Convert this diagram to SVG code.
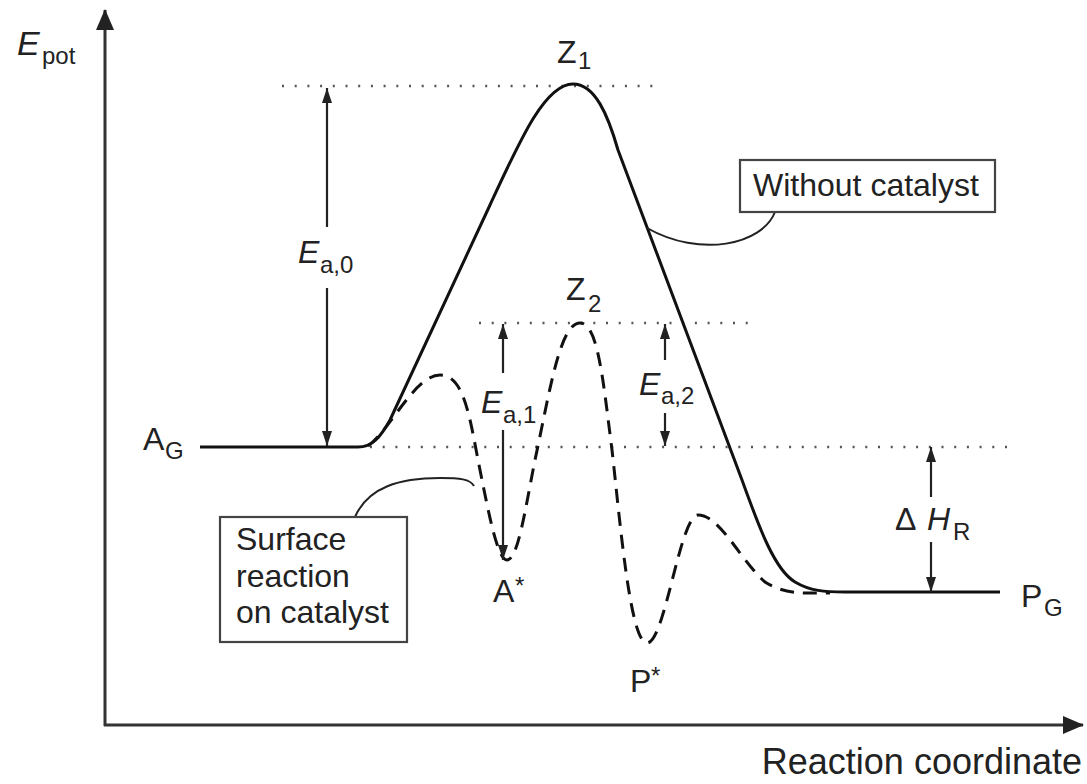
<svg xmlns="http://www.w3.org/2000/svg" width="1087" height="784" viewBox="0 0 1087 784">
<defs>
<style>
text{font-family:"Liberation Sans",Arial,sans-serif;fill:#222;}
.lbl{font-size:32px;}
.sub{font-size:24px;}
.it{font-style:italic;}
.axis{stroke:#333;stroke-width:3;fill:none;}
.solid{stroke:#111;stroke-width:3;fill:none;stroke-linejoin:round;}
.dash{stroke:#111;stroke-width:3;fill:none;stroke-dasharray:14 9;}
.dot{stroke:#555;stroke-width:2.6;fill:none;stroke-dasharray:2 10.7;}
.arr{stroke:#222;stroke-width:2.2;fill:none;}
.lead{stroke:#222;stroke-width:2;fill:none;}
.box{stroke:#444;stroke-width:2.2;fill:#fff;}
</style>
<marker id="axhead" markerUnits="userSpaceOnUse" markerWidth="22" markerHeight="20" viewBox="0 0 22 20" refX="20" refY="10" orient="auto">
<path d="M0,1 L21,10 L0,19 Z" fill="#222"/>
</marker>
<marker id="head" markerUnits="userSpaceOnUse" markerWidth="16" markerHeight="12" viewBox="0 0 16 12" refX="15" refY="6" orient="auto">
<path d="M0,1 L15,6 L0,11 Z" fill="#222"/>
</marker>
</defs>
<rect width="1087" height="784" fill="#fff"/>

<g id="axes">
<line class="axis" x1="105" y1="726" x2="105" y2="10" marker-end="url(#axhead)"/>
<line class="axis" x1="104" y1="725" x2="1083" y2="725" marker-end="url(#axhead)"/>
<text class="lbl it" x="17" y="55" style="font-size:34px">E</text>
<text class="sub" x="42" y="64">pot</text>
<text class="lbl" x="1082" y="774" text-anchor="end" style="font-size:36px">Reaction coordinate</text>
</g>

<g id="reference-lines">
<line class="dot" x1="282" y1="86" x2="654" y2="86"/>
<line class="dot" x1="479" y1="323" x2="752" y2="323"/>
<line class="dot" x1="370" y1="447" x2="1010" y2="447"/>
</g>

<g id="connectors">
<path id="without-catalyst-curve" class="solid" d="M 200 447 L 358 447 C 372 447, 380 438, 390 420 L 490 205 C 520 140, 545 84, 573 84 C 595 84, 608 115, 618 150 L 742 480 C 760 530, 775 570, 795 582 C 810 591, 825 592, 845 592 L 1000 592"/>
<path id="catalyst-curve" class="dash" d="M 368 446 C 390 430, 415 375, 440 375 C 465 375, 470 420, 480 470 C 490 520, 498 560, 507 560 C 518 560, 525 510, 535 460 C 550 390, 560 323, 580 323 C 598 323, 603 380, 612 450 C 620 520, 630 643, 647 643 C 665 643, 680 515, 698 515 C 720 515, 740 560, 765 582 C 785 595, 805 593, 830 593"/>
<line class="arr" x1="327" y1="227" x2="327" y2="88" marker-end="url(#head)"/>
<line class="arr" x1="327" y1="288" x2="327" y2="446" marker-end="url(#head)"/>
<line class="arr" x1="503" y1="373" x2="503" y2="324" marker-end="url(#head)"/>
<line class="arr" x1="503" y1="430" x2="503" y2="560" marker-end="url(#head)"/>
<line class="arr" x1="665" y1="360" x2="665" y2="324" marker-end="url(#head)"/>
<line class="arr" x1="665" y1="413" x2="665" y2="446" marker-end="url(#head)"/>
<line class="arr" x1="931" y1="497" x2="931" y2="447" marker-end="url(#head)"/>
<line class="arr" x1="931" y1="542" x2="931" y2="592" marker-end="url(#head)"/>
<path class="lead" d="M 775 212 C 762 245, 700 258, 647 228"/>
<path class="lead" d="M 355 517 C 368 487, 400 478, 440 478 C 460 478, 470 479, 474 486"/>
</g>

<g id="label-Z1"><text class="lbl" x="557" y="63">Z</text><text class="sub" x="578" y="69">1</text></g>
<g id="label-Z2"><text class="lbl" x="566" y="300">Z</text><text class="sub" x="588" y="312">2</text></g>
<g id="label-AG"><text class="lbl" x="143" y="450">A</text><text class="sub" x="165" y="459">G</text></g>
<g id="label-PG"><text class="lbl" x="1021" y="607">P</text><text class="sub" x="1044" y="616">G</text></g>
<g id="label-Astar"><text class="lbl" x="493" y="602">A</text><text class="sub" x="515" y="594">*</text></g>
<g id="label-Pstar"><text class="lbl" x="630" y="692">P</text><text class="sub" x="651" y="684">*</text></g>
<g id="label-Ea0"><text class="lbl it" x="298" y="263">E</text><text class="sub" x="320" y="273">a,0</text></g>
<g id="label-Ea1"><text class="lbl it" x="481" y="413">E</text><text class="sub" x="503" y="423">a,1</text></g>
<g id="label-Ea2"><text class="lbl it" x="639" y="395">E</text><text class="sub" x="661" y="404">a,2</text></g>
<g id="label-dHR"><text class="lbl" x="895" y="530">Δ</text><text class="lbl it" x="927" y="530">H</text><text class="sub" x="953" y="540">R</text></g>

<g id="box-without-catalyst">
<rect class="box" x="740" y="160" width="255" height="52"/>
<text class="lbl" x="753" y="196">Without catalyst</text>
</g>
<g id="box-surface-reaction">
<rect class="box" x="220" y="517" width="187" height="125"/>
<text class="lbl" x="236" y="550">Surface</text>
<text class="lbl" x="236" y="587">reaction</text>
<text class="lbl" x="236" y="623">on catalyst</text>
</g>
</svg>
